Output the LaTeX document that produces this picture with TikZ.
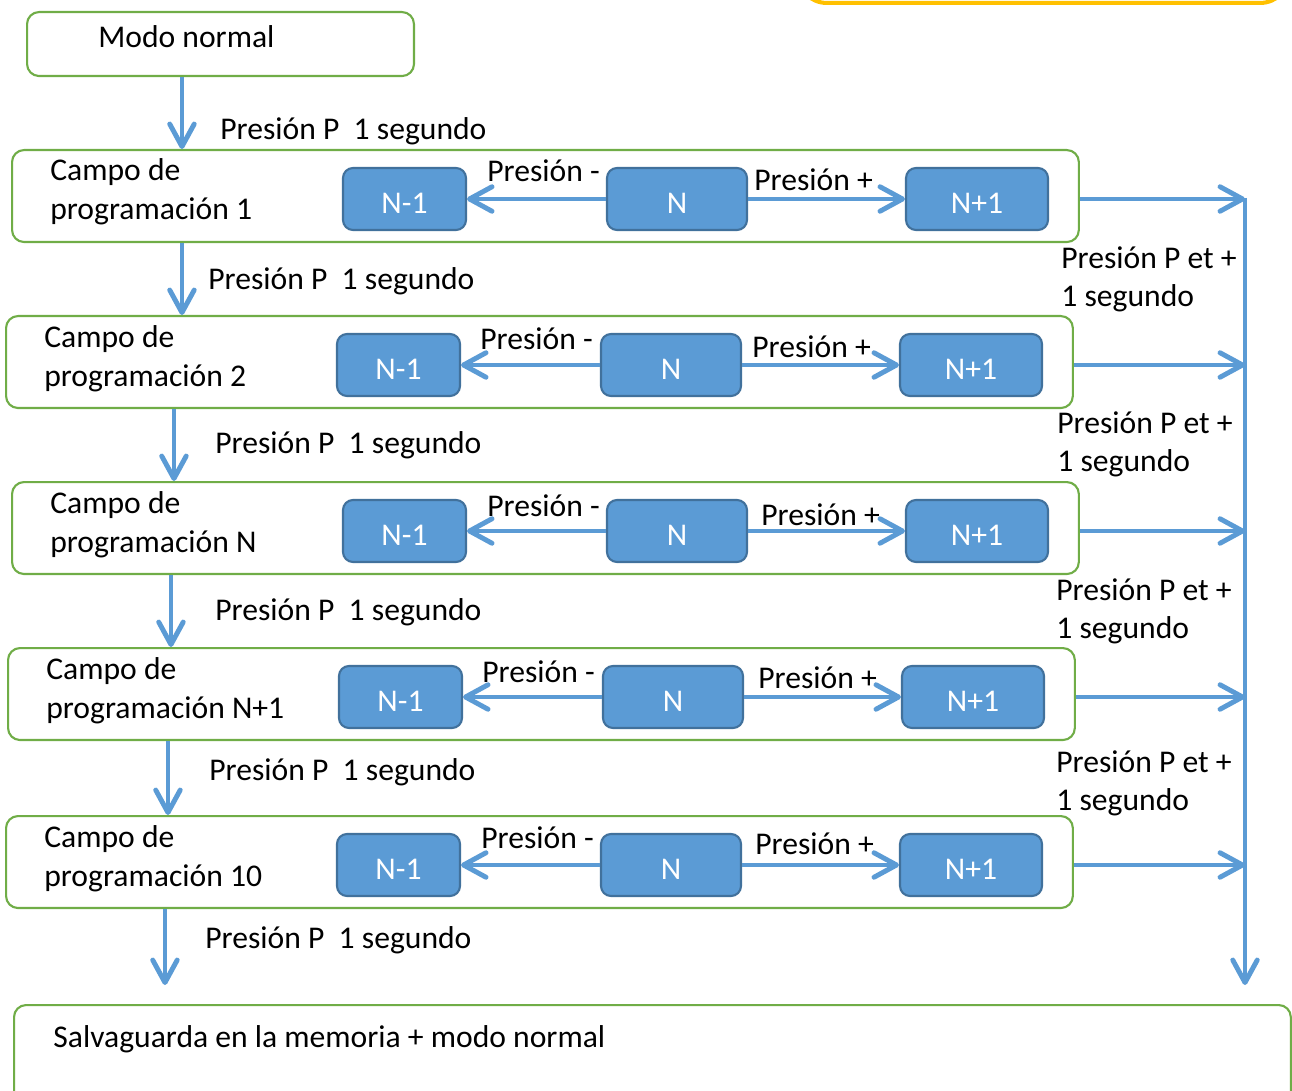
\documentclass[tikz,border=0pt]{standalone}
\usepackage{fontspec}
\setmainfont{Carlito}
\usepackage{xcolor}
\usetikzlibrary{arrows.meta,positioning}

\definecolor{verdecampo}{HTML}{70AD47}
\definecolor{azulvalor}{HTML}{5B9BD5}
\definecolor{azulborde}{HTML}{41719C}
\definecolor{amarillo}{HTML}{FFC000}

\begin{document}
\begin{tikzpicture}[x=0.02cm, y=-0.02cm,
    campo/.style={draw=verdecampo, line width=1.2pt, rounded corners=0.24cm, fill=white, anchor=north west, minimum width=21.34cm, minimum height=1.84cm, inner sep=0pt},
    valor/.style={draw=azulborde, fill=azulvalor, line width=1.2pt, rounded corners=0.2cm, minimum height=1.24cm, text=white, text height=16.2pt, text depth=0pt, font=\fontsize{18}{22}\selectfont},
    menos/.style={valor, minimum width=2.46cm},
    central/.style={valor, minimum width=2.8cm},
    mas/.style={valor, minimum width=2.84cm},
    etiq/.style={anchor=west, inner sep=0pt, align=left, font=\fontsize{18}{22}\selectfont},
    flecha/.style={draw=azulvalor, line width=2.8pt, -{Straight Barb[length=4.5mm, width=4.9mm, round]}}
]
    \useasboundingbox (0,0) rectangle (1292,1091);
    \clip (0,0) rectangle (1292,1091);

    % Note box (cut at the top)
    \node[draw=amarillo, line width=2.3pt, rounded corners=0.6cm, minimum width=9.86cm, minimum height=2cm, anchor=south west] (nota) at (795,5) {};

    % Normal mode
    \node[campo, minimum width=7.74cm, minimum height=1.28cm] (modo) at (26,11) {};
    \node[etiq] (tmodo) at (98,37) {Modo normal};

    % Right bus
    \coordinate (busarriba) at (1245,198);
    \coordinate (busabajo) at (1245,985);
    \draw[flecha] (busarriba) -- (busabajo);

    % Field 1
    \node[campo] (campo1) at (11,149) {};
    \node[etiq] (tcampo1) at (50,191.5) {Campo de\\programación 1};
    \node[menos] (menos1) at (404.5,199) {N-1};
    \node[central] (n1) at (677,199) {N};
    \node[mas] (mas1) at (977,199) {N+1};
    \draw[flecha] (n1) -- (menos1);
    \draw[flecha] (n1) -- (mas1);
    \node[etiq] (pmenos1) at (487,171) {Presión -};
    \node[etiq] (pmas1) at (754,180) {Presión +};
    \draw[flecha] (campo1.east |- mas1) -- (busarriba |- mas1);

    % Field 2
    \node[campo] (campo2) at (5,315) {};
    \node[etiq] (tcampo2) at (44,358.5) {Campo de\\programación 2};
    \node[menos] (menos2) at (398.5,365) {N-1};
    \node[central] (n2) at (671,365) {N};
    \node[mas] (mas2) at (971,365) {N+1};
    \draw[flecha] (n2) -- (menos2);
    \draw[flecha] (n2) -- (mas2);
    \node[etiq] (pmenos2) at (480,339) {Presión -};
    \node[etiq] (pmas2) at (752,347) {Presión +};
    \draw[flecha] (campo2.east |- mas2) -- (busarriba |- mas2);

    % Field N
    \node[campo] (campo3) at (11,481) {};
    \node[etiq] (tcampo3) at (50,524.5) {Campo de\\programación N};
    \node[menos] (menos3) at (404.5,531) {N-1};
    \node[central] (n3) at (677,531) {N};
    \node[mas] (mas3) at (977,531) {N+1};
    \draw[flecha] (n3) -- (menos3);
    \draw[flecha] (n3) -- (mas3);
    \node[etiq] (pmenos3) at (487,506) {Presión -};
    \node[etiq] (pmas3) at (761,515) {Presión +};
    \draw[flecha] (campo3.east |- mas3) -- (busarriba |- mas3);

    % Field N+1
    \node[campo] (campo4) at (7,647) {};
    \node[etiq] (tcampo4) at (46,690.5) {Campo de\\programación N+1};
    \node[menos] (menos4) at (400.5,697) {N-1};
    \node[central] (n4) at (673,697) {N};
    \node[mas] (mas4) at (973,697) {N+1};
    \draw[flecha] (n4) -- (menos4);
    \draw[flecha] (n4) -- (mas4);
    \node[etiq] (pmenos4) at (482,672) {Presión -};
    \node[etiq] (pmas4) at (758,678) {Presión +};
    \draw[flecha] (campo4.east |- mas4) -- (busarriba |- mas4);

    % Field 10
    \node[campo] (campo5) at (5,815) {};
    \node[etiq] (tcampo5) at (44,858.5) {Campo de\\programación 10};
    \node[menos] (menos5) at (398.5,865) {N-1};
    \node[central] (n5) at (671,865) {N};
    \node[mas] (mas5) at (971,865) {N+1};
    \draw[flecha] (n5) -- (menos5);
    \draw[flecha] (n5) -- (mas5);
    \node[etiq] (pmenos5) at (481,838) {Presión -};
    \node[etiq] (pmas5) at (755,844) {Presión +};
    \draw[flecha] (campo5.east |- mas5) -- (busarriba |- mas5);

    % Save and back
    \node[campo, minimum width=25.54cm, minimum height=2.2cm] (final) at (13,1004) {};
    \node[etiq] (tfinal) at (53,1039) {Salvaguarda en la memoria + modo normal};

    % Down arrows
    \draw[flecha] ([xshift=3.12cm]modo.south west) -- ([xshift=3.12cm]modo.south west |- campo1.north);
    \draw[flecha] ([xshift=3.42cm]campo1.south west) -- ([xshift=3.42cm]campo1.south west |- campo2.north);
    \draw[flecha] ([xshift=3.38cm]campo2.south west) -- ([xshift=3.38cm]campo2.south west |- campo3.north);
    \draw[flecha] ([xshift=3.2cm]campo3.south west) -- ([xshift=3.2cm]campo3.south west |- campo4.north);
    \draw[flecha] ([xshift=3.22cm]campo4.south west) -- ([xshift=3.22cm]campo4.south west |- campo5.north);
    \draw[flecha] ([xshift=3.2cm]campo5.south west) -- ([xshift=3.2cm, yshift=0.38cm]campo5.south west |- final.north);
    \node[etiq] (seg0) at (220,131) {Presión P\ \ 1 segundo};
    \node[etiq] (seg1) at (208,281) {Presión P\ \ 1 segundo};
    \node[etiq] (seg2) at (215,445) {Presión P\ \ 1 segundo};
    \node[etiq] (seg3) at (215,612) {Presión P\ \ 1 segundo};
    \node[etiq] (seg4) at (209,772) {Presión P\ \ 1 segundo};
    \node[etiq] (seg5) at (205,940) {Presión P\ \ 1 segundo};

    % Right labels
    \node[etiq] (der1) at (1061,279.5) {Presión P et +\\1 segundo};
    \node[etiq] (der2) at (1057,444.5) {Presión P et +\\1 segundo};
    \node[etiq] (der3) at (1056,611.5) {Presión P et +\\1 segundo};
    \node[etiq] (der4) at (1056,783.5) {Presión P et +\\1 segundo};
\end{tikzpicture}
\end{document}
